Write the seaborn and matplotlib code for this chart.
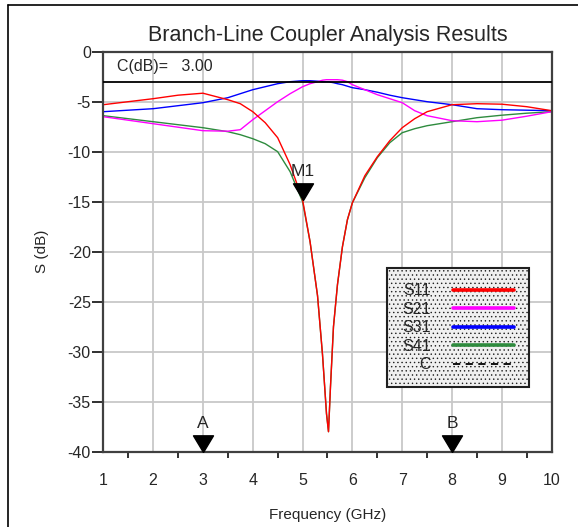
import matplotlib
matplotlib.use('Agg')
import numpy as np
import pandas as pd
import matplotlib.pyplot as plt
import seaborn as sns
from matplotlib.lines import Line2D
from matplotlib.ticker import MultipleLocator

freq = [1.0, 1.5, 2.0, 2.5, 3.0, 3.5, 3.75, 4.0, 4.25, 4.5, 4.75, 5.0, 5.15, 5.3, 5.4,
        5.48, 5.52, 5.56, 5.62, 5.7, 5.8, 5.9, 6.0, 6.25, 6.5, 6.75, 7.0, 7.25, 7.5,
        8.0, 8.5, 9.0, 9.5, 10.0]
s11 = [-5.3, -5.0, -4.7, -4.35, -4.15, -4.8, -5.2, -6.0, -7.1, -8.6, -11.3, -14.8, -19.0,
       -24.4, -30.3, -36.2, -38.0, -33.5, -27.5, -23.3, -19.5, -16.8, -15.1, -12.4, -10.5,
       -8.9, -7.6, -6.7, -6.0, -5.3, -5.2, -5.25, -5.5, -5.9]
s21 = [-6.5, -6.85, -7.2, -7.55, -7.9, -7.95, -7.8, -6.8, -5.9, -5.0, -4.2, -3.5, -3.2,
       -3.0, -2.85, -2.8, -2.8, -2.8, -2.8, -2.8, -2.85, -3.0, -3.3, -3.8, -4.3, -4.7,
       -5.1, -5.9, -6.4, -6.9, -7.0, -6.85, -6.45, -6.0]
s31 = [-6.0, -5.85, -5.7, -5.4, -5.1, -4.6, -4.2, -3.8, -3.5, -3.2, -3.0, -2.9, -2.9,
       -2.95, -3.0, -3.0, -3.0, -3.05, -3.1, -3.2, -3.3, -3.45, -3.6, -3.8, -4.05, -4.35,
       -4.6, -4.8, -5.0, -5.3, -5.7, -5.8, -5.85, -5.9]
s41 = [-6.4, -6.7, -7.0, -7.3, -7.6, -8.0, -8.3, -8.7, -9.2, -10.0, -12.0, -15.0, -19.0,
       -24.4, -30.3, -36.2, -38.0, -33.5, -27.5, -23.3, -19.5, -16.8, -15.1, -12.6, -10.6,
       -9.1, -8.1, -7.7, -7.4, -7.0, -6.6, -6.35, -6.15, -6.0]
coupling_db = 3.00

marker_names = ['M1', 'A', 'B']
marker_x = [5.0, 3.0, 8.0]
marker_y = [-14.8, -40.0, -40.0]

series = ['S11', 'S21', 'S31', 'S41']
colors = {'S11': '#ff0000', 'S21': '#ff00ff', 'S31': '#0000ff', 'S41': '#2e8b3e'}

df = pd.DataFrame({'Frequency': freq, 'S11': s11, 'S21': s21, 'S31': s31, 'S41': s41})
long = df.melt(id_vars='Frequency', var_name='Trace', value_name='dB')

sns.set_style('white')
plt.rcParams['font.family'] = ['Liberation Sans', 'DejaVu Sans']
plt.rcParams['hatch.color'] = '#d2d2d2'
plt.rcParams['hatch.linewidth'] = 0.5

fig = plt.figure(figsize=(5.78, 5.27), dpi=100)
ax = fig.add_axes([0.1787, 0.1429, 0.7758, 0.759])

# draw S41 first so S11 sits on top in the dip
for name in ['S41', 'S31', 'S21', 'S11']:
    sns.lineplot(data=long[long['Trace'] == name], x='Frequency', y='dB',
                 color=colors[name], lw=1.0, ax=ax, legend=False)
ax.axhline(-coupling_db, color='black', lw=1.3, zorder=3)

ax.set_xlim(1, 10)
ax.set_ylim(-40, 0)
ax.xaxis.set_major_locator(MultipleLocator(1))
ax.xaxis.set_minor_locator(MultipleLocator(0.5))
ax.yaxis.set_major_locator(MultipleLocator(5))
ax.grid(True, which='major', color='#c8c8c8', lw=1.3)
ax.set_axisbelow(True)
for sp in ax.spines.values():
    sp.set_color('#404040')
    sp.set_linewidth(1.6)
ax.tick_params(axis='x', which='major', direction='out', length=7, width=1.3,
               color='#202020', pad=8, labelsize=11.5)
ax.tick_params(axis='x', which='minor', direction='out', length=4, width=1.3,
               color='#202020', bottom=True)
ax.tick_params(axis='y', direction='out', length=8, width=1.3, color='#202020',
               pad=1, labelsize=11.5, left=True)
ax.set_xticklabels([str(int(v)) for v in ax.get_xticks()])
ax.set_yticklabels([str(int(v)) for v in ax.get_yticks()])

ax.set_title('Branch-Line Coupler Analysis Results', fontsize=15.5, pad=8)
ax.set_xlabel('Frequency (GHz)', fontsize=11, labelpad=15)
ax.set_ylabel('S (dB)', fontsize=11, labelpad=13)

ax.text(1.27, -1.45, f'C(dB)=   {coupling_db:.2f}', fontsize=11.5, va='center', ha='left')

# markers with tip on the data point
tri = [(0, 0), (-0.6, 1.0), (0.6, 1.0), (0, 0)]
for name, mx, my in zip(marker_names, marker_x, marker_y):
    ax.plot([mx], [my], marker=tri, markersize=24, color='black', clip_on=False, zorder=5)
    ax.annotate(name, (mx, my), xytext=(0, 15), textcoords='offset points',
                ha='center', va='bottom', fontsize=12.5, annotation_clip=False)

handles = [Line2D([], [], color=colors[s], lw=2.6) for s in series]
handles.append(Line2D([], [], color='black', lw=1.3, ls=(0, (4, 3))))
leg = ax.legend(handles, series + ['C'], loc='upper left', bbox_to_anchor=(0.633, 0.459),
                markerfirst=False, fontsize=11.5, handlelength=3.8, handletextpad=1.4,
                labelspacing=0.22, borderpad=0.95, fancybox=False, framealpha=1,
                borderaxespad=0)
frame = leg.get_frame()
frame.set_facecolor('#f0f0f0')
frame.set_edgecolor('#202020')
frame.set_linewidth(1.5)
frame.set_hatch('....')

# outer panel border (left and top)
fig.add_artist(Line2D([8 / 578, 8 / 578], [0, 1 - 5 / 527], color='black', lw=1.2,
                      transform=fig.transFigure))
fig.add_artist(Line2D([8 / 578, 1], [1 - 5 / 527, 1 - 5 / 527], color='black', lw=1.2,
                      transform=fig.transFigure))

fig.savefig('out.png', dpi=100)
